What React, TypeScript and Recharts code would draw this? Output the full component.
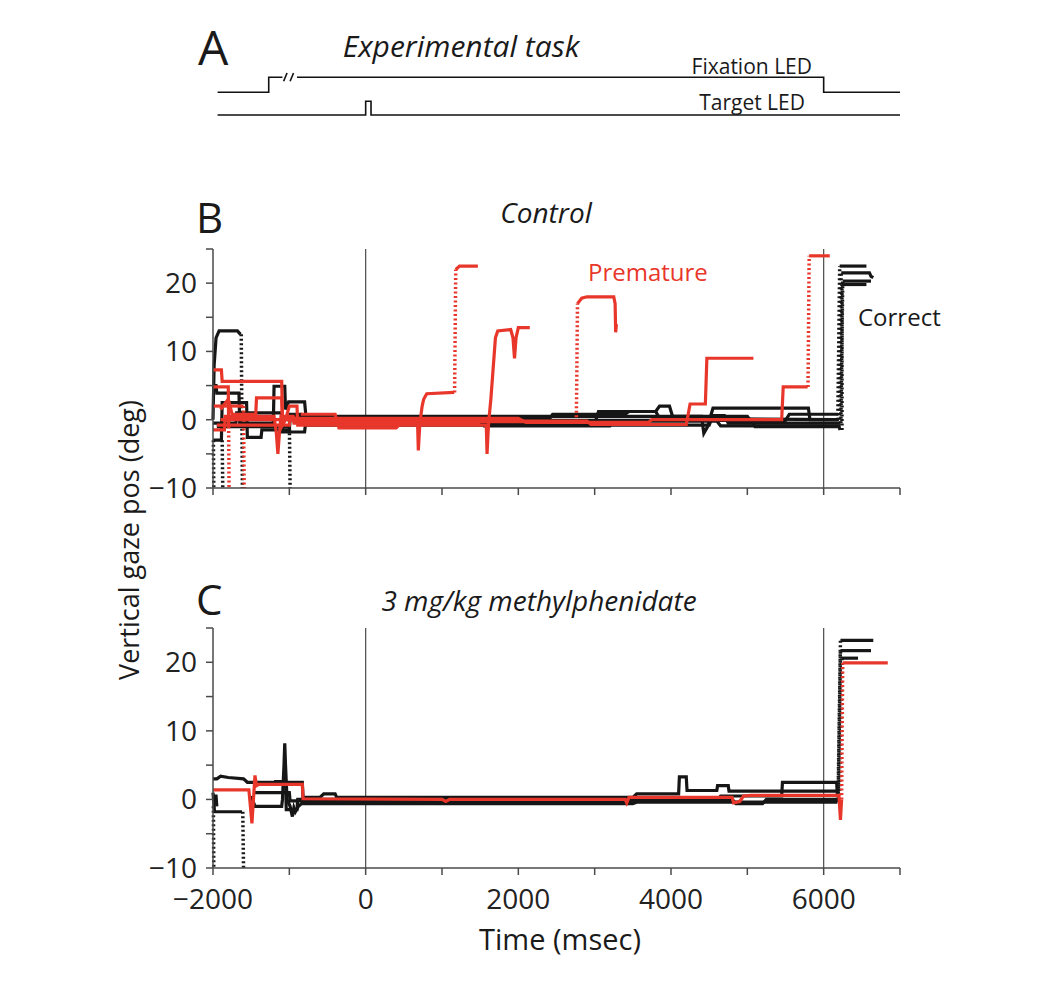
import { LineChart, Line, XAxis, YAxis, ReferenceLine } from "recharts";

type Pt = [number, number];

const X_TICKS = [-2000, -1000, 0, 1000, 2000, 3000, 4000, 5000, 6000, 7000];
const X_LABELED = [-2000, 0, 2000, 4000, 6000];
const Y_TICKS = [-10, -5, 0, 5, 10, 15, 20, 25];
const Y_LABELED = [-10, 0, 10, 20];

// panel A: LED timing (arbitrary levels)
const fixationOn: Pt[] = [[-1940, 1.65], [-1270, 1.65], [-1270, 2.75], [-1090, 2.75]];
const fixationRest: Pt[] = [[-900, 2.75], [6000, 2.75], [6000, 1.65], [7000, 1.65]];
const breakMark1: Pt[] = [[-1075, 2.45], [-1030, 3.05]];
const breakMark2: Pt[] = [[-990, 2.45], [-945, 3.05]];
const targetLed: Pt[] = [[-1940, 0], [0, 0], [0, 1], [70, 1], [70, 0], [7000, 0]];

// panel B: control, black = correct trials
const cK1: Pt[] = [[-2000, 0], [-1985, 8], [-1960, 12], [-1920, 13], [-1680, 13], [-1640, 12.5]];
const cK1Jump: Pt[] = [[-1630, 12.5], [-1615, -10]];
const cK2: Pt[] = [[-2000, 5], [-1960, 5], [-1950, 3.9], [-1660, 3.9], [-1650, -0.5], [-1210, -0.5], [-1200, 4.9], [-1060, 4.9], [-1050, 1.5], [-1010, 2.6], [-800, 2.6], [-780, 0.2], [2400, 0], [2450, 0.8], [3400, 0.8], [3450, 1.2], [3800, 1.2], [3850, 0.2], [6180, 0]];
const cK2Jump: Pt[] = [[6185, 0], [6210, 22.5]];
const cK2End: Pt[] = [[6210, 22.5], [6560, 22.5]];
const cK3: Pt[] = [[-2000, -3], [-1890, -3], [-1880, 2.5], [-1560, 2.5], [-1550, -2.6], [-1370, -2.6], [-1360, -1.5], [-1000, -1.5], [-990, 0.8], [-850, 0.8], [-840, -0.6], [3000, -0.6], [3050, 1.2], [3800, 1.2], [3850, 2], [3980, 2], [4020, 0.5], [4400, 0.5], [4430, -2], [4480, -1], [4550, 1.7], [5800, 1.7], [5820, 0], [6200, 0]];
const cK3Jump: Pt[] = [[6205, 0], [6230, 21.5]];
const cK3End: Pt[] = [[6230, 21.5], [6600, 21.5], [6620, 21], [6650, 20.8]];
const cK4: Pt[] = [[-2000, -0.5], [-1700, -0.5], [-1690, 1], [-1100, 1], [-1090, -1.8], [-800, -1.8], [-790, -0.8], [4500, -0.8], [4550, 0.6], [4700, 0.6], [4750, -0.5], [6220, -0.5]];
const cK4Jump: Pt[] = [[6225, -0.5], [6250, 20.3]];
const cK4End: Pt[] = [[6250, 20.3], [6620, 20.3]];
const cK5: Pt[] = [[-1950, -1], [-1000, -1], [-990, 0.5], [5000, 0.5], [5100, -1], [6200, -1], [6215, -1.5]];
const cK5Jump: Pt[] = [[6240, -1.5], [6240, 19.8]];
const cK5End: Pt[] = [[6240, 19.8], [6560, 19.8]];
const cK6: Pt[] = [[-800, -0.3], [1500, -0.3], [1550, -0.9], [3200, -0.9], [3250, -0.2], [4600, -0.2], [4650, -0.9], [6220, -0.9]];
const cK7: Pt[] = [[-700, 0.4], [2000, 0.4], [2050, -0.1], [5500, -0.1], [5550, 0.8], [6190, 0.8]];
const cKDrop1: Pt[] = [[-1995, -3], [-1990, -10]];
const cKDrop2: Pt[] = [[-1880, -3], [-1872, -10]];
const cKDrop3: Pt[] = [[-1000, 0], [-990, -10]];

// panel B: control, red = premature trials
const cR1: Pt[] = [[-2000, 7.3], [-1890, 7.3], [-1880, 5.6], [-1100, 5.6], [-1090, 0.3], [-950, 0.3], [-940, -0.5], [680, -0.5], [690, -4.5], [710, -0.5], [740, 2], [760, 3], [800, 3.8], [1160, 4]];
const cR1Jump: Pt[] = [[1165, 4], [1180, 22]];
const cR1End: Pt[] = [[1180, 22], [1230, 22.5], [1470, 22.5]];
const cR2: Pt[] = [[-2000, 4.8], [-1800, 4.8], [-1795, -1]];
const cR2Jump: Pt[] = [[-1795, -1], [-1790, -10]];
const cR3: Pt[] = [[-1900, 1.5], [-1800, 3], [-1750, 0.8], [-1440, 0.8], [-1430, 3.2], [-1100, 3.2], [-1090, -0.8], [-1050, 0], [-1000, 2], [-900, 2], [-890, -0.8], [1580, -0.8], [1590, -5], [1610, -0.5], [1640, 3], [1700, 12], [1730, 13], [1900, 13.2], [1930, 12], [1950, 9], [1970, 12], [2000, 13.5], [2150, 13.5]];
const cR4: Pt[] = [[-1990, 2], [-1600, 2]];
const cR4Jump: Pt[] = [[-1600, 2], [-1592, -10]];
const cR5: Pt[] = [[-2000, -1.5], [-1850, -1.5], [-1840, 0.5], [-1200, 0.5], [-1170, -2], [-1150, -5], [-1130, -2], [-1110, 0.5], [-950, 0.5], [-930, -0.3], [2750, -0.3]];
const cR5Jump: Pt[] = [[2760, -0.3], [2775, 17]];
const cR5End: Pt[] = [[2775, 17], [2830, 17.8], [2900, 18], [3250, 18], [3268, 17], [3275, 12.8], [3285, 14]];
const cR6: Pt[] = [[-1900, 0], [-800, 0], [-790, -0.2], [2900, -0.2], [2950, -0.7], [4200, -0.7], [4250, 2.3], [4450, 2.3], [4470, 9], [5080, 9]];
const cR7: Pt[] = [[-1950, -0.8], [-1000, -0.8], [-990, 0.2], [2000, 0.2], [2100, -0.4], [3700, -0.4], [3750, 0], [5450, 0], [5470, 4.8], [5790, 4.8]];
const cR7Jump: Pt[] = [[5795, 4.8], [5810, 24]];
const cR7End: Pt[] = [[5810, 24], [6080, 24]];
const cR8: Pt[] = [[-850, 0.8], [-400, 0.8], [-350, -1.2], [400, -1.2], [450, -0.6], [1500, -0.6]];

// panel C: methylphenidate
const mK1: Pt[] = [[-2000, 3], [-1950, 3], [-1900, 3.4], [-1800, 3.2], [-1600, 3], [-1550, 2.5], [-830, 2.5], [-820, 0.3], [-600, 0.3], [-550, 0.8], [-400, 0.8], [-380, 0.3], [3500, 0.3], [3550, 0.8], [4100, 0.8], [4110, 3.3], [4200, 3.3], [4210, 1.3], [4600, 1.3], [4610, 2], [4750, 2], [4760, 1.2], [6180, 1.2]];
const mK1Jump: Pt[] = [[6190, 1.2], [6220, 23.2]];
const mK1End: Pt[] = [[6220, 23.2], [6650, 23.2]];
const mK2: Pt[] = [[-2000, 1], [-1980, -1.8], [-1620, -1.8]];
const mK2Jump: Pt[] = [[-1610, -1.8], [-1600, -10]];
const mK3: Pt[] = [[-1990, 0.5], [-1960, 0.5], [-1950, -1]];
const mK3Jump: Pt[] = [[-1995, -1], [-1990, -10]];
const mK4: Pt[] = [[-1500, 0.5], [-1450, -1], [-1100, -1], [-1090, 0], [-1070, 5], [-1060, 8.2], [-1050, 5], [-1030, 0], [-990, -1], [-960, -2.5], [-940, -1.2], [-920, -1.8], [-880, -1], [-840, -0.6], [3500, -0.6], [3550, -0.4], [6180, -0.4]];
const mK4Jump: Pt[] = [[6190, -0.4], [6220, 21.7]];
const mK4End: Pt[] = [[6220, 21.7], [6620, 21.7]];
const mK5: Pt[] = [[-1450, 1], [-1000, 1], [-990, -0.2], [4600, -0.2], [4650, 0.5], [5450, 0.5], [5460, 2.5], [6170, 2.5], [6180, 0.6], [6200, 0.6]];
const mK5Jump: Pt[] = [[6210, 0.6], [6240, 20.6]];
const mK5End: Pt[] = [[6240, 20.6], [6450, 20.6]];
const mK6: Pt[] = [[-1200, 2.6], [-1050, 2.6], [-1040, -1.5], [-900, -1.5], [-890, 0], [4800, 0], [4850, -0.6], [5200, -0.6], [5250, 0], [6200, 0]];
const mR1: Pt[] = [[-2000, 1.4], [-1530, 1.4], [-1510, -1], [-1490, -3.5], [-1470, 0], [-1450, 3.5], [-1430, 2], [-1400, 2.2], [-830, 2.2], [-820, 0.1], [1000, 0], [1050, -0.3], [1100, 0], [3400, 0], [3420, -0.5], [3450, 0.3], [4800, 0.3], [4820, -0.5], [4900, -0.3], [4950, 0.5], [5050, 0.6], [6200, 0.6], [6220, -3], [6235, 0]];
const mR1Jump: Pt[] = [[6235, 0], [6250, 19.9]];
const mR1End: Pt[] = [[6250, 19.9], [6840, 19.9]];

const BLACK = "#161616";
const RED = "#e8372a";
const AXIS = "#4a4a4a";
const FONT = "'Open Sans', sans-serif";

type Series = { pts: Pt[]; color: string; dotted?: boolean };

const controlSeries: Series[] = [
  { pts: cK1, color: BLACK }, { pts: cK1Jump, color: BLACK, dotted: true },
  { pts: cK2, color: BLACK }, { pts: cK2Jump, color: BLACK, dotted: true }, { pts: cK2End, color: BLACK },
  { pts: cK3, color: BLACK }, { pts: cK3Jump, color: BLACK, dotted: true }, { pts: cK3End, color: BLACK },
  { pts: cK4, color: BLACK }, { pts: cK4Jump, color: BLACK, dotted: true }, { pts: cK4End, color: BLACK },
  { pts: cK5, color: BLACK }, { pts: cK5Jump, color: BLACK, dotted: true }, { pts: cK5End, color: BLACK },
  { pts: cK6, color: BLACK }, { pts: cK7, color: BLACK },
  { pts: cKDrop1, color: BLACK, dotted: true }, { pts: cKDrop2, color: BLACK, dotted: true }, { pts: cKDrop3, color: BLACK, dotted: true },
  { pts: cR1, color: RED }, { pts: cR1Jump, color: RED, dotted: true }, { pts: cR1End, color: RED },
  { pts: cR2, color: RED }, { pts: cR2Jump, color: RED, dotted: true },
  { pts: cR3, color: RED },
  { pts: cR4, color: RED }, { pts: cR4Jump, color: RED, dotted: true },
  { pts: cR5, color: RED }, { pts: cR5Jump, color: RED, dotted: true }, { pts: cR5End, color: RED },
  { pts: cR6, color: RED },
  { pts: cR7, color: RED }, { pts: cR7Jump, color: RED, dotted: true }, { pts: cR7End, color: RED },
  { pts: cR8, color: RED },
];

const drugSeries: Series[] = [
  { pts: mK1, color: BLACK }, { pts: mK1Jump, color: BLACK, dotted: true }, { pts: mK1End, color: BLACK },
  { pts: mK2, color: BLACK }, { pts: mK2Jump, color: BLACK, dotted: true },
  { pts: mK3, color: BLACK }, { pts: mK3Jump, color: BLACK, dotted: true },
  { pts: mK4, color: BLACK }, { pts: mK4Jump, color: BLACK, dotted: true }, { pts: mK4End, color: BLACK },
  { pts: mK5, color: BLACK }, { pts: mK5Jump, color: BLACK, dotted: true }, { pts: mK5End, color: BLACK },
  { pts: mK6, color: BLACK },
  { pts: mR1, color: RED }, { pts: mR1Jump, color: RED, dotted: true }, { pts: mR1End, color: RED },
];

const toRows = (pts: Pt[]) => pts.map(([t, v]) => ({ t, v }));
const fmt = (v: number) => (v < 0 ? "\u2212" + Math.abs(v) : String(v));

function GazePanel({ series, showX, height, top, marginTop, marginBottom }: { series: Series[]; showX: boolean; height: number; top: number; marginTop: number; marginBottom: number }) {
  return (
    <div style={{ position: "absolute", left: 0, top }}>
      <LineChart width={1050} height={height} margin={{ top: marginTop, right: 150, bottom: marginBottom, left: 133 }}>
        <XAxis
          type="number"
          dataKey="t"
          domain={[-2000, 7000]}
          ticks={X_TICKS}
          interval={0}
          height={41}
          tickSize={7}
          tickMargin={14}
          axisLine={{ stroke: AXIS, strokeWidth: 1.5 }}
          tickLine={{ stroke: AXIS, strokeWidth: 1.5 }}
          tick={{ fill: "#222", fontSize: 28, fontFamily: FONT }}
          tickFormatter={(v: number) => (showX && X_LABELED.includes(v) ? fmt(v) : "")}
        />
        <YAxis
          type="number"
          domain={[-10, 25]}
          ticks={Y_TICKS}
          interval={0}
          width={80}
          tickSize={7}
          tickMargin={9}
          axisLine={{ stroke: AXIS, strokeWidth: 1.5 }}
          tickLine={{ stroke: AXIS, strokeWidth: 1.5 }}
          tick={{ fill: "#222", fontSize: 28, fontFamily: FONT }}
          tickFormatter={(v: number) => (Y_LABELED.includes(v) ? fmt(v) : "")}
        />
        <ReferenceLine x={0} stroke={AXIS} strokeWidth={1.2} />
        <ReferenceLine x={6000} stroke={AXIS} strokeWidth={1.2} />
        {series.map((s, i) => (
          <Line
            key={i}
            data={toRows(s.pts)}
            dataKey="v"
            type="linear"
            stroke={s.color}
            strokeWidth={s.dotted ? 3.5 : 3.2}
            strokeDasharray={s.dotted ? "2 2.5" : undefined}
            dot={false}
            activeDot={false}
            isAnimationActive={false}
          />
        ))}
      </LineChart>
    </div>
  );
}

function TaskPanel() {
  const ledLines: Pt[][] = [fixationOn, fixationRest, breakMark1, breakMark2, targetLed];
  return (
    <div style={{ position: "absolute", left: 0, top: 50 }}>
      <LineChart width={1050} height={70} margin={{ top: 10, right: 150, bottom: 5, left: 213 }}>
        <XAxis type="number" dataKey="t" domain={[-2000, 7000]} hide />
        <YAxis type="number" domain={[0, 4]} hide />
        {ledLines.map((pts, i) => (
          <Line
            key={i}
            data={toRows(pts)}
            dataKey="v"
            type="linear"
            stroke="#111"
            strokeWidth={1.6}
            dot={false}
            activeDot={false}
            isAnimationActive={false}
          />
        ))}
      </LineChart>
    </div>
  );
}

export default function App() {
  return (
    <div style={{ position: "absolute", left: 0, top: 0, width: 1050, height: 986, background: "#fff", fontFamily: FONT }}>
      <TaskPanel />
      <GazePanel series={controlSeries} showX={false} height={300} top={230} marginTop={19} marginBottom={1} />
      <GazePanel series={drugSeries} showX={true} height={330} top={610} marginTop={18} marginBottom={31} />
      <svg width={1050} height={986} style={{ position: "absolute", left: 0, top: 0, pointerEvents: "none" }}>
        <g fontFamily={FONT} fill="#1a1a1a">
          <text x={198} y={65} fontSize={48}>A</text>
          <text x={461} y={57} fontSize={30} fontStyle="italic" textAnchor="middle">Experimental task</text>
          <text x={812} y={74} fontSize={21} textAnchor="end">Fixation LED</text>
          <text x={805} y={110} fontSize={21} textAnchor="end">Target LED</text>
          <text x={196} y={233} fontSize={42}>B</text>
          <text x={546} y={223} fontSize={28} fontStyle="italic" textAnchor="middle">Control</text>
          <text x={588} y={281} fontSize={24} fill={RED}>Premature</text>
          <text x={858} y={326} fontSize={24}>Correct</text>
          <text x={196} y={615} fontSize={42}>C</text>
          <text x={539} y={611} fontSize={28} fontStyle="italic" textAnchor="middle">3 mg/kg methylphenidate</text>
          <text x={560} y={950} fontSize={29} textAnchor="middle">Time (msec)</text>
          <text x={0} y={0} fontSize={27} textAnchor="middle" transform="translate(139 540) rotate(-90)">Vertical gaze pos (deg)</text>
        </g>
      </svg>
    </div>
  );
}
